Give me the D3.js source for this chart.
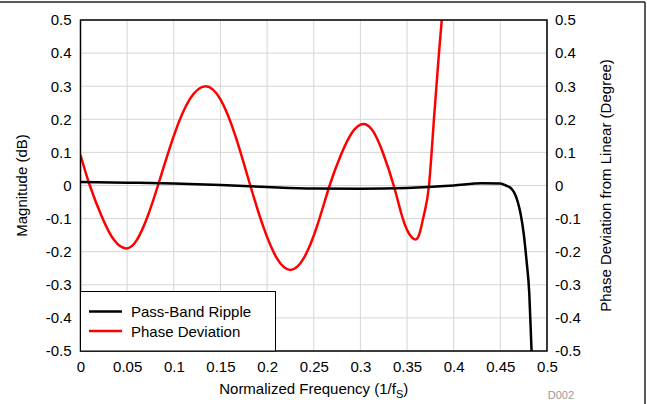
<!DOCTYPE html>
<html>
<head>
<meta charset="utf-8">
<script src="https://cdnjs.cloudflare.com/ajax/libs/d3/7.8.5/d3.min.js"></script>
<style>
  body { margin: 0; background: #fff; }
  svg text { font-family: "Liberation Sans", Arial, sans-serif; }
</style>
</head>
<body>
<svg id="chart" width="647" height="404"></svg>
<script>
// pass-band ripple (dB) vs normalized frequency
var rippleF = [0, 0.05, 0.1, 0.15, 0.2, 0.25, 0.3, 0.35, 0.4, 0.43, 0.45, 0.456, 0.462, 0.466, 0.469, 0.472, 0.475, 0.478, 0.481, 0.4834, 0.486];
var rippleV = [0.0106, 0.0085, 0.006, 0.0015, -0.0045, -0.009, -0.0097, -0.0075, 0, 0.0066, 0.006, 0.0, -0.01, -0.028, -0.053, -0.09, -0.145, -0.225, -0.325, -0.497, -0.65];

// phase deviation from linear (degree)
var phaseF = [0, 0.010, 0.023, 0.036, 0.049, 0.0603, 0.0717, 0.083, 0.100, 0.117, 0.134, 0.150, 0.166, 0.182,
              0.1963, 0.2107, 0.225, 0.239, 0.253, 0.267, 0.2792, 0.2913, 0.3035, 0.3142, 0.3249, 0.3357,
              0.3435, 0.3512, 0.359, 0.3638, 0.3687, 0.3735, 0.3788, 0.3842, 0.3872, 0.39];
var phaseV = [0.092, 0, -0.095, -0.165, -0.19, -0.165, -0.095, 0, 0.15, 0.26, 0.30, 0.26, 0.15, 0,
              -0.1275, -0.221, -0.255, -0.221, -0.1275, 0, 0.093, 0.161, 0.186, 0.161, 0.093, 0,
              -0.0815, -0.141, -0.163, -0.141, -0.0815, 0, 0.2, 0.4, 0.5, 0.6];

var xTicks = [0, 0.05, 0.1, 0.15, 0.2, 0.25, 0.3, 0.35, 0.4, 0.45, 0.5];
var yTicks = [-0.5, -0.4, -0.3, -0.2, -0.1, 0, 0.1, 0.2, 0.3, 0.4, 0.5];
var seriesNames = ['Pass-Band Ripple', 'Phase Deviation'];
var seriesColors = ['#000000', '#ff0000'];

var svg = d3.select('#chart');
var pL = 80.5, pR = 547, pT = 20, pB = 351;

var x = d3.scaleLinear().domain([0, 0.5]).range([pL, pR]);
var y = d3.scaleLinear().domain([-0.5, 0.5]).range([pB, pT]);
var fmt = function (d) { return d === 0 ? '0' : String(+d.toFixed(2)); };

// outer frame (top and right edges visible)
svg.append('line').attr('x1', 0).attr('x2', 645).attr('y1', 2).attr('y2', 2)
    .attr('stroke', '#222').attr('stroke-width', 1.5);
svg.append('line').attr('x1', 645).attr('x2', 645).attr('y1', 2).attr('y2', 404)
    .attr('stroke', '#222').attr('stroke-width', 1.5);

// grid
var grid = svg.append('g');
grid.selectAll('.vx').data(xTicks).enter().append('line')
    .attr('x1', x).attr('x2', x).attr('y1', pT).attr('y2', pB)
    .attr('stroke', '#d6d6d6').attr('stroke-width', 1);
grid.selectAll('.hy').data(yTicks).enter().append('line')
    .attr('x1', pL).attr('x2', pR).attr('y1', y).attr('y2', y)
    .attr('stroke', '#d6d6d6').attr('stroke-width', 1);

// axes (labels only, no tick marks)
var axL = svg.append('g').attr('transform', 'translate(' + pL + ',0)')
    .call(d3.axisLeft(y).tickValues(yTicks).tickFormat(fmt).tickSize(0).tickPadding(9));
var axR = svg.append('g').attr('transform', 'translate(' + pR + ',0)')
    .call(d3.axisRight(y).tickValues(yTicks).tickFormat(fmt).tickSize(0).tickPadding(8));
var axB = svg.append('g').attr('transform', 'translate(0,' + pB + ')')
    .call(d3.axisBottom(x).tickValues(xTicks).tickFormat(fmt).tickSize(0).tickPadding(10));
[axL, axR, axB].forEach(function (a) {
    a.select('.domain').remove();
    a.selectAll('text').style('font-size', '15px').attr('fill', '#000');
});

// curves
svg.append('clipPath').attr('id', 'clip').append('rect')
    .attr('x', pL).attr('y', pT).attr('width', pR - pL).attr('height', pB - pT);
function makeLine(curve) {
    return d3.line().curve(curve)
        .x(function (d) { return x(d[0]); }).y(function (d) { return y(d[1]); });
}
var plot = svg.append('g').attr('clip-path', 'url(#clip)');
plot.append('path').datum(d3.zip(phaseF, phaseV)).attr('d', makeLine(d3.curveNatural))
    .attr('fill', 'none').attr('stroke', seriesColors[1]).attr('stroke-width', 2.5);
plot.append('path').datum(d3.zip(rippleF, rippleV)).attr('d', makeLine(d3.curveMonotoneX))
    .attr('fill', 'none').attr('stroke', seriesColors[0]).attr('stroke-width', 2.5);

// plot border
svg.append('rect').attr('x', pL).attr('y', pT).attr('width', pR - pL).attr('height', pB - pT)
    .attr('fill', 'none').attr('stroke', '#000').attr('stroke-width', 1.5);

// legend
var lg = svg.append('g');
lg.append('rect').attr('x', pL).attr('y', 291.5).attr('width', 195).attr('height', pB - 291.5)
    .attr('fill', '#fff').attr('stroke', '#000').attr('stroke-width', 1);
seriesNames.forEach(function (n, i) {
    var yy = 311.5 + i * 19.5;
    lg.append('line').attr('x1', 89).attr('x2', 122).attr('y1', yy).attr('y2', yy)
        .attr('stroke', seriesColors[i]).attr('stroke-width', 2.5);
    lg.append('text').attr('x', 131).attr('y', yy + 5.5).text(n).style('font-size', '15px');
});

// axis titles
svg.append('text').attr('transform', 'translate(27,' + ((pT + pB) / 2) + ') rotate(-90)')
    .attr('text-anchor', 'middle').style('font-size', '15px').text('Magnitude (dB)');
svg.append('text').attr('transform', 'translate(611,' + ((pT + pB) / 2) + ') rotate(-90)')
    .attr('text-anchor', 'middle').style('font-size', '15px').text('Phase Deviation from Linear (Degree)');
var xt = svg.append('text').attr('x', (pL + pR) / 2).attr('y', 394)
    .attr('text-anchor', 'middle').style('font-size', '15px');
xt.append('tspan').text('Normalized Frequency (1/f');
xt.append('tspan').attr('dy', 4).style('font-size', '11px').text('S');
xt.append('tspan').attr('dy', -4).text(')');

svg.append('text').attr('x', 574).attr('y', 399).attr('text-anchor', 'end')
    .attr('fill', '#999').style('font-size', '11px').text('D002');
</script>
</body>
</html>
